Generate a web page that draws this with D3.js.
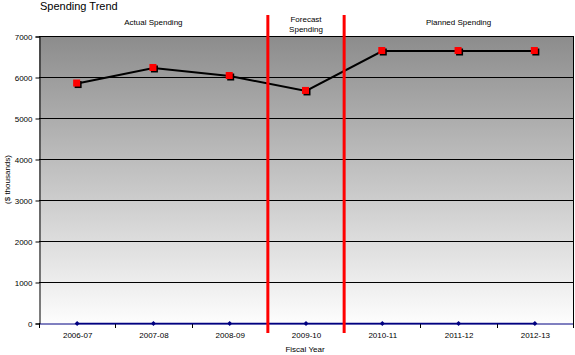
<!DOCTYPE html>
<html><head><meta charset="utf-8">
<script src="https://cdn.jsdelivr.net/npm/d3@7"></script>
<style>body{margin:0;background:#fff}svg{display:block}text{font-family:"Liberation Sans",Arial,sans-serif;fill:#000}</style>
</head><body><svg id="c" width="575" height="355"></svg>
<script>
const categories = ["2006-07","2007-08","2008-09","2009-10","2010-11","2011-12","2012-13"];
const spending = [5840, 6220, 6024, 5660, 6634, 6634, 6634];
const baseline = [0, 0, 0, 0, 0, 0, 0];
const yTicks = [0,1000,2000,3000,4000,5000,6000,7000];
const sectionLabels = [
  {lines:["Actual Spending"], from:0, to:2},
  {lines:["Forecast","Spending"], from:3, to:3},
  {lines:["Planned Spending"], from:4, to:6}
];
const dividers = [3, 4];

const svg = d3.select("#c");
const L=39, R=573, T=36, B=323;
const x = d3.scaleBand().domain(categories).range([L,R]);
const y = d3.scaleLinear().domain([0,7000]).range([B,T]);

const defs = svg.append("defs");
const g = defs.append("linearGradient").attr("id","bg").attr("x1",0).attr("y1",0).attr("x2",0).attr("y2",1);
g.append("stop").attr("offset","0%").attr("stop-color","#8c8c8c");
g.append("stop").attr("offset","100%").attr("stop-color","#fdfdfd");
svg.append("rect").attr("x",L).attr("y",T).attr("width",R-L).attr("height",B-T).attr("fill","url(#bg)");

// gridlines
svg.append("g").selectAll("line").data(yTicks.filter(d=>d>0)).join("line")
  .attr("x1",L).attr("x2",R).attr("y1",d=>y(d)+0.5).attr("y2",d=>y(d)+0.5)
  .attr("stroke","#000").attr("stroke-width",1);
// right border
svg.append("line").attr("x1",R+0.5).attr("x2",R+0.5).attr("y1",T).attr("y2",B).attr("stroke","#000");

// y axis
const ya = svg.append("g").attr("transform",`translate(${L+0.5},0.5)`)
  .call(d3.axisLeft(y).tickValues(yTicks).tickSize(4).tickPadding(3).tickFormat(d3.format("d")));
ya.select(".domain").attr("stroke","#000");
ya.selectAll(".tick line").attr("stroke","#000");
ya.selectAll("text").attr("font-size","8px").attr("font-family","'Liberation Sans',Arial,sans-serif");

// x axis
const xa = svg.append("g").attr("transform",`translate(0.5,${B+0.5})`)
  .call(d3.axisBottom(x).tickSize(0).tickPadding(9));
xa.select(".domain").attr("stroke","#000080");
xa.selectAll("text").attr("font-size","8px").attr("font-family","'Liberation Sans',Arial,sans-serif");
svg.append("g").selectAll("line").data(d3.range(categories.length+1)).join("line")
  .attr("x1",i=>Math.round(L+i*x.step())+0.5).attr("x2",i=>Math.round(L+i*x.step())+0.5)
  .attr("y1",B).attr("y2",B+5).attr("stroke","#000");

// baseline series
svg.append("path").datum(baseline)
  .attr("d",d3.line().x((d,i)=>x(categories[i])+x.bandwidth()/2).y(d=>y(d)+0.5))
  .attr("fill","none").attr("stroke","#000080").attr("stroke-width",1.5);
svg.append("g").selectAll("path").data(baseline).join("path")
  .attr("transform",(d,i)=>`translate(${x(categories[i])+x.bandwidth()/2},${y(d)+0.5})`)
  .attr("d","M0,-2.5L2.5,0L0,2.5L-2.5,0Z").attr("fill","#000080");

// spending line
const line = d3.line().x((d,i)=>x(categories[i])+x.bandwidth()/2).y(d=>y(d));
svg.append("path").datum(spending).attr("d",line)
  .attr("fill","none").attr("stroke","#000").attr("stroke-width",2);
// markers with shadow
svg.append("g").selectAll("rect").data(spending).join("rect")
  .attr("x",(d,i)=>x(categories[i])+x.bandwidth()/2-2.5).attr("y",d=>y(d)-2.5)
  .attr("width",7).attr("height",7).attr("fill","#000");
svg.append("g").selectAll("rect").data(spending).join("rect")
  .attr("x",(d,i)=>x(categories[i])+x.bandwidth()/2-4).attr("y",d=>y(d)-4)
  .attr("width",7).attr("height",7).attr("fill","#ff0000");

// dividers
svg.append("g").selectAll("line").data(dividers).join("line")
  .attr("x1",i=>L+i*x.step()).attr("x2",i=>L+i*x.step())
  .attr("y1",15).attr("y2",333).attr("stroke","#ff0000").attr("stroke-width",3);

// section labels
sectionLabels.forEach(s=>{
  const cx = (x(categories[s.from]) + x(categories[s.to]) + x.bandwidth())/2;
  const t = svg.append("text").attr("text-anchor","middle").attr("font-size","8px");
  const y0 = s.lines.length===1 ? 25 : 22;
  s.lines.forEach((ln,k)=>t.append("tspan").attr("x",cx).attr("y",y0+k*10).text(ln));
});

// title & axis titles
svg.append("text").attr("x",40).attr("y",10).attr("font-size","11px").text("Spending Trend");
svg.append("text").attr("x",305).attr("y",352).attr("text-anchor","middle").attr("font-size","8px").text("Fiscal Year");
svg.append("text").attr("transform",`translate(10,${(T+B)/2}) rotate(-90)`).attr("text-anchor","middle").attr("font-size","8px").text("($ thousands)");
</script></body></html>
